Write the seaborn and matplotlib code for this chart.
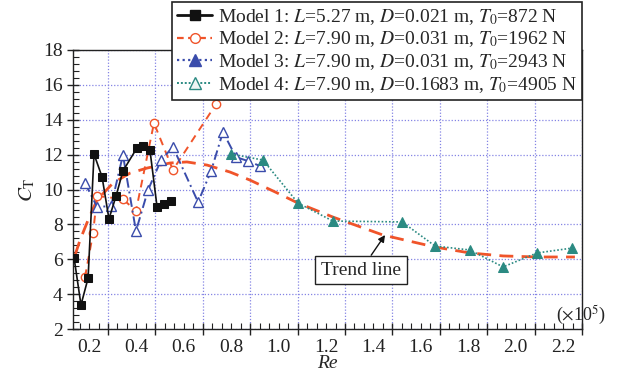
import numpy as np
import pandas as pd
import seaborn as sns
import matplotlib
matplotlib.use("Agg")
import matplotlib.pyplot as plt
from matplotlib.lines import Line2D
from matplotlib.ticker import MultipleLocator
from matplotlib.transforms import ScaledTranslation

# ---- data (Re in 1e5, C_T) ----
m1_re = [0.057, 0.086, 0.116, 0.141, 0.175, 0.204, 0.234, 0.263, 0.322, 0.348, 0.377, 0.407, 0.436, 0.466]
m1_ct = [6.07, 3.38, 4.92, 12.03, 10.72, 8.31, 9.63, 11.06, 12.38, 12.49, 12.26, 9.00, 9.17, 9.34]

m2_re = [0.103, 0.137, 0.154, 0.263, 0.318, 0.394, 0.474, 0.656]
m2_ct = [4.98, 7.50, 9.63, 9.45, 8.77, 13.81, 11.12, 14.90]

m3_re = [0.103, 0.154, 0.213, 0.263, 0.318, 0.369, 0.424, 0.474, 0.580, 0.635, 0.685, 0.740, 0.791, 0.841]
m3_ct = [10.37, 9.00, 9.05, 11.98, 7.62, 9.97, 11.69, 12.44, 9.28, 11.06, 13.30, 11.86, 11.63, 11.35]

m4_re = [0.719, 0.854, 1.002, 1.149, 1.441, 1.580, 1.727, 1.867, 2.010, 2.158]
m4_ct = [12.03, 11.69, 9.22, 8.19, 8.14, 6.76, 6.53, 5.56, 6.36, 6.64]

trend_re = [0.061, 0.082, 0.116, 0.154, 0.221, 0.293, 0.365, 0.462, 0.533, 0.618, 0.715, 0.799,
            0.905, 1.002, 1.149, 1.360, 1.580, 1.727, 1.867, 2.010, 2.170]
trend_ct = [6.24, 7.10, 8.25, 9.40, 10.37, 10.94, 11.23, 11.52, 11.58, 11.40, 11.00, 10.54,
            9.86, 9.22, 8.42, 7.39, 6.70, 6.36, 6.19, 6.13, 6.13]

labels = [
    r"Model 1: $L$=5.27 m, $D$=0.021 m, $T_0$=872 N",
    r"Model 2: $L$=7.90 m, $D$=0.031 m, $T_0$=1962 N",
    r"Model 3: $L$=7.90 m, $D$=0.031 m, $T_0$=2943 N",
    r"Model 4: $L$=7.90 m, $D$=0.1683 m, $T_0$=4905 N",
]
xticks = [0.2, 0.4, 0.6, 0.8, 1.0, 1.2, 1.4, 1.6, 1.8, 2.0, 2.2]
yticks = [2, 4, 6, 8, 10, 12, 14, 16, 18]

sns.set_style("ticks")
plt.rcParams["font.family"] = ["Liberation Serif", "DejaVu Serif"]
plt.rcParams["mathtext.fontset"] = "stix"

C_BLACK = "#111111"
C_RED = "#f0542a"
C_BLUE = "#3a4cab"
C_TEAL = "#2b8a82"
C_GRID = "#8484e4"

fig = plt.figure(figsize=(6.19, 3.78), dpi=100)
ax = fig.add_axes([73 / 619, 1 - 329 / 378, (582 - 73) / 619, (329 - 50) / 378])

ax.grid(True, which="major", color=C_GRID, linestyle=(0, (1, 1.5)), linewidth=0.9)
ax.set_axisbelow(True)

d1 = pd.DataFrame({"Re": m1_re, "CT": m1_ct})
d2 = pd.DataFrame({"Re": m2_re, "CT": m2_ct})
d3 = pd.DataFrame({"Re": m3_re, "CT": m3_ct})
d4 = pd.DataFrame({"Re": m4_re, "CT": m4_ct})
dt = pd.DataFrame({"Re": trend_re, "CT": trend_ct})

sns.lineplot(data=dt, x="Re", y="CT", ax=ax, sort=False, estimator=None, color=C_RED,
             linewidth=2.0, linestyle=(0, (5, 3)), zorder=2)
sns.lineplot(data=d2, x="Re", y="CT", ax=ax, sort=False, estimator=None, color=C_RED,
             linewidth=1.4, linestyle=(0, (4, 3)), marker="o", markersize=6,
             markerfacecolor="white", markeredgecolor=C_RED, markeredgewidth=1.0, zorder=3)
sns.lineplot(data=d3, x="Re", y="CT", ax=ax, sort=False, estimator=None, color=C_BLUE,
             linewidth=1.4, linestyle=(0, (5, 2, 1, 2)), marker="^", markersize=7,
             markerfacecolor="white", markeredgecolor=C_BLUE, markeredgewidth=1.0, zorder=3)
sns.lineplot(data=d4, x="Re", y="CT", ax=ax, sort=False, estimator=None, color=C_TEAL,
             linewidth=1.2, linestyle=(0, (1, 1.2)), marker="^", markersize=7,
             markerfacecolor=C_TEAL, markeredgecolor=C_TEAL, zorder=3)
sns.lineplot(data=d1, x="Re", y="CT", ax=ax, sort=False, estimator=None, color=C_BLACK,
             linewidth=1.2, marker="s", markersize=6, markerfacecolor=C_BLACK,
             markeredgecolor=C_BLACK, zorder=4)

ax.set_xlim(0.2 - 35 / 237, 2.2)
ax.set_ylim(2, 18)
ax.set_xticks(xticks)
ax.set_xticklabels([f"{v:.1f}" for v in xticks])
ax.set_yticks(yticks)
ax.xaxis.set_minor_locator(MultipleLocator(0.04))
ax.yaxis.set_minor_locator(MultipleLocator(0.4))
ax.tick_params(axis="both", which="major", direction="inout", length=9, width=1.0,
               labelsize=14, colors="#222222")
ax.tick_params(axis="both", which="minor", direction="in", length=4, width=0.8, colors="#222222")
ax.tick_params(axis="x", which="major", pad=3)
ax.tick_params(axis="y", which="major", pad=3)
for lab in ax.get_xticklabels():
    lab.set_transform(lab.get_transform() + ScaledTranslation(-0.19, 0, fig.dpi_scale_trans))
for s in ax.spines.values():
    s.set_visible(True)
    s.set_color("#222222")
    s.set_linewidth(1.0)

ax.set_xlabel("Re", fontsize=14, style="italic", labelpad=-1)
ax.set_ylabel(r"$C_{\mathrm{T}}$", fontsize=15, labelpad=4)

ax.text(0.998, 0.05, r"($\times$10$^5$)", transform=ax.transAxes, ha="center", va="center",
        fontsize=13, clip_on=False)

ax.annotate("Trend line", xy=(1.369, 7.39), xytext=(1.2675, 5.38), textcoords="data",
            ha="center", va="center", fontsize=14,
            bbox=dict(boxstyle="square,pad=0.3", fc="white", ec="#222222", lw=1.0),
            arrowprops=dict(arrowstyle="-|>", color="#111111", lw=1.0, mutation_scale=10,
                            shrinkA=0, shrinkB=0))

handles = [
    Line2D([], [], color=C_BLACK, lw=2.0, marker="s", ms=7, mfc=C_BLACK, mec=C_BLACK),
    Line2D([], [], color=C_RED, lw=1.6, ls=(0, (3, 2)), marker="o", ms=7, mfc="white", mec=C_RED),
    Line2D([], [], color=C_BLUE, lw=1.6, ls=(0, (1, 1.5)), marker="^", ms=8, mfc=C_BLUE, mec=C_BLUE),
    Line2D([], [], color=C_TEAL, lw=1.4, ls=(0, (1, 1)), marker="^", ms=8, mfc="#eef5f4", mec=C_TEAL),
]
leg = ax.legend(handles, labels, loc="upper right", bbox_to_anchor=(1.0, (329 - 2) / 279),
                borderaxespad=0, frameon=True, fancybox=False, framealpha=1, fontsize=14,
                handlelength=1.8, handletextpad=0.3, labelspacing=0.15, borderpad=0.25)
leg.get_frame().set_edgecolor("#222222")
leg.get_frame().set_linewidth(1.2)
leg.set_zorder(10)

fig.savefig("out.png", dpi=100)
